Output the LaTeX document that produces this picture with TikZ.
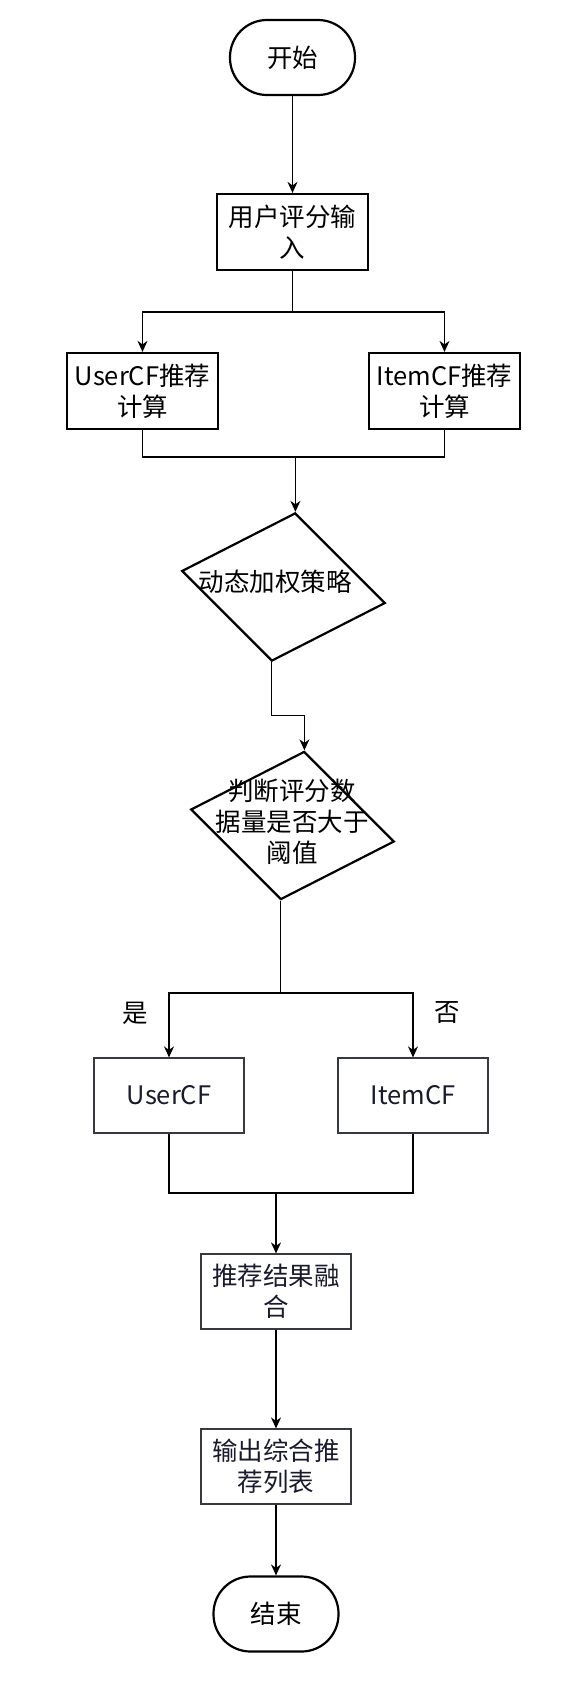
\documentclass[tikz,border=0pt]{standalone}
\usepackage{fontspec}
\setmainfont{Noto Sans CJK SC}
\usetikzlibrary{shapes.geometric,arrows.meta}
\definecolor{thinline}{HTML}{36393D}
\definecolor{navytext}{HTML}{1A1A2E}
\begin{document}
\begin{tikzpicture}[x=1pt,y=-1pt,
  font=\fontsize{25.5}{31}\selectfont,
  conn/.style={line width=1.3pt, draw=black},
  arr/.style={conn, -{Stealth[length=11pt,width=10pt,inset=3.5pt]}},
  term/.style={draw, line width=2.2pt, rectangle, rounded corners=37pt, minimum width=125pt, minimum height=75pt, inner sep=0pt},
  boldbox/.style={draw, line width=2.2pt, rectangle, minimum width=151pt, minimum height=76pt, inner sep=0pt, align=center},
  thinbox/.style={draw=thinline, line width=1.2pt, rectangle, minimum width=150pt, minimum height=75pt, inner sep=0pt, align=center, text=navytext},
  decision/.style={draw, line width=2.2pt, diamond, minimum width=206pt, minimum height=150pt, inner sep=0pt, rotate=-9},
  plain/.style={inner sep=0pt, align=center}
]
\useasboundingbox (0,0) rectangle (575,1684);

\node[term] (start) at (292.5,57.5) {开始};
\node[boldbox] (ui) at (292.5,232) {用户评分输\\入};
\node[boldbox] (ucf) at (142.5,391) {UserCF推荐\\计算};
\node[boldbox] (icf) at (444.5,391) {ItemCF推荐\\计算};
\node[decision] (d1) at (283.5,587) {};
\node[plain] (d1t) at (275,582) {动态加权策略};
\node[decision] (d2) at (292.5,825.5) {};
\node[plain] (d2t) at (292,822) {判断评分数\\据量是否大于\\阈值};
\node[plain] (yes) at (135,1013) {是};
\node[plain] (no) at (447,1013) {否};
\node[thinbox] (ucf2) at (169,1095.5) {UserCF};
\node[thinbox] (icf2) at (413,1095.5) {ItemCF};
\node[thinbox] (fuse) at (276,1291.5) {推荐结果融\\合};
\node[thinbox] (out) at (276,1466.5) {输出综合推\\荐列表};
\node[term] (end) at (276,1614) {结束};

\coordinate (j1) at (292.5,312);
\coordinate (j2) at (d1.north |- 0,457);
\coordinate (j3) at (d2.south |- 0,993);
\coordinate (j4) at (fuse.north |- 0,1193);

\draw[arr] (start) -- (ui);
\draw[conn] (ui) -- (j1);
\draw[arr] (j1) -| (ucf.north);
\draw[arr] (j1) -| (icf.north);
\draw[conn] (ucf.south) |- (j2) -| (icf.south);
\draw[arr] (j2) -- (d1.north);
\draw[arr] (d1.south) -- ++(0,53) -| (d2.north);
\draw[conn] (d2.south) -- (j3);
\draw[arr] (j3) -| (ucf2.north);
\draw[arr] (j3) -| (icf2.north);
\draw[conn] (ucf2.south) |- (j4) -| (icf2.south);
\draw[arr] (j4) -- (fuse.north);
\draw[arr] (fuse) -- (out);
\draw[arr] (out) -- (end);
\end{tikzpicture}
\end{document}
